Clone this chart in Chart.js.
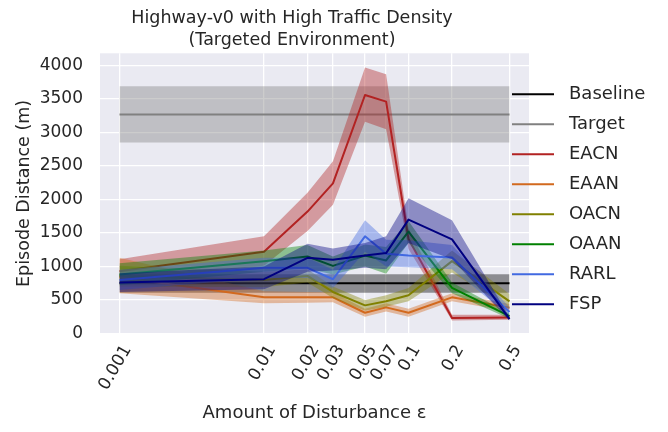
<!DOCTYPE html>
<html>
<head>
<meta charset="utf-8">
<script src="https://cdn.jsdelivr.net/npm/chart.js@4.4.1/dist/chart.umd.min.js"></script>
<style>
  html, body { margin: 0; padding: 0; background: #ffffff; }
  canvas { display: block; }
</style>
</head>
<body>
<canvas id="chart" width="668" height="432"></canvas>
<script>
// disturbance levels (log x axis) and tick labels
const xValues = [0.001, 0.01, 0.02, 0.03, 0.05, 0.07, 0.1, 0.2, 0.5];
const xTickLabels = ['0.001', '0.01', '0.02', '0.03', '0.05', '0.07', '0.1', '0.2', '0.5'];
const yTicks = [0, 500, 1000, 1500, 2000, 2500, 3000, 3500, 4000];

// mean episode distance and shaded band (low / high) per method
const baselineMean = [750, 750, 750, 750, 750, 750, 750, 750, 750];
const baselineLow  = [610, 610, 610, 610, 610, 610, 610, 610, 610];
const baselineHigh = [885, 885, 885, 885, 885, 885, 885, 885, 885];

const targetMean = [3270, 3270, 3270, 3270, 3270, 3270, 3270, 3270, 3270];
const targetLow  = [2850, 2850, 2850, 2850, 2850, 2850, 2850, 2850, 2850];
const targetHigh = [3690, 3690, 3690, 3690, 3690, 3690, 3690, 3690, 3690];

const eacnMean = [930, 1220, 1820, 2240, 3560, 3460, 1410, 230, 240];
const eacnLow  = [760, 1010, 1530, 1920, 3160, 3050, 1260, 195, 205];
const eacnHigh = [1110, 1450, 2100, 2570, 3970, 3870, 1570, 280, 280];

const eaanMean = [840, 540, 540, 540, 310, 390, 310, 540, 385];
const eaanLow  = [600, 450, 460, 465, 250, 330, 250, 480, 330];
const eaanHigh = [1130, 630, 620, 615, 370, 450, 370, 600, 440];

const oacnMean = [860, 800, 860, 620, 420, 480, 570, 1080, 480];
const oacnLow  = [700, 690, 760, 530, 340, 400, 480, 910, 370];
const oacnHigh = [1010, 920, 960, 700, 500, 570, 680, 1240, 590];

const oaanMean = [880, 1080, 1150, 1010, 1165, 1090, 1520, 680, 260];
const oaanLow  = [720, 920, 970, 880, 1000, 890, 1350, 600, 220];
const oaanHigh = [1050, 1240, 1320, 1150, 1330, 1290, 1680, 760, 300];

const rarlMean = [800, 980, 980, 810, 1450, 1190, 1165, 1135, 320];
const rarlLow  = [650, 830, 830, 680, 1220, 1000, 990, 960, 260];
const rarlHigh = [950, 1130, 1130, 950, 1690, 1400, 1390, 1320, 390];

const fspMean = [760, 810, 1130, 1100, 1165, 1200, 1700, 1405, 215];
const fspLow  = [620, 660, 920, 940, 980, 960, 1350, 1110, 190];
const fspHigh = [900, 1000, 1340, 1270, 1350, 1450, 2020, 1690, 250];

const seriesNames = ['Baseline', 'Target', 'EACN', 'EAAN', 'OACN', 'OAAN', 'RARL', 'FSP'];
const seriesColors = ['#000000', '#808080', '#b22222', '#d2691e', '#808000', '#008000', '#4169e1', '#000080'];
const seriesMeans = [baselineMean, targetMean, eacnMean, eaanMean, oacnMean, oaanMean, rarlMean, fspMean];
const seriesLows  = [baselineLow, targetLow, eacnLow, eaanLow, oacnLow, oaanLow, rarlLow, fspLow];
const seriesHighs = [baselineHigh, targetHigh, eacnHigh, eaanHigh, oacnHigh, oaanHigh, rarlHigh, fspHigh];

const textColor = '#262626';
const font = 'DejaVu Sans';

function rgba(hex, a) {
  const n = parseInt(hex.slice(1), 16);
  return `rgba(${(n >> 16) & 255},${(n >> 8) & 255},${n & 255},${a})`;
}

function points(ys) {
  return ys.map((y, i) => ({x: xValues[i], y: y}));
}

// short line swatch for the legend, left part of a wider box
function legendMark(color) {
  const c = document.createElement('canvas');
  c.width = 48;
  c.height = 6;
  const g = c.getContext('2d');
  g.strokeStyle = color;
  g.lineWidth = 2.2;
  g.beginPath();
  g.moveTo(0, 3);
  g.lineTo(42, 3);
  g.stroke();
  return c;
}

const datasets = [];
seriesNames.forEach((name, s) => {
  const color = seriesColors[s];
  const base = 100 - 10 * s;
  datasets.push({
    label: name,
    data: points(seriesMeans[s]),
    borderColor: color,
    backgroundColor: color,
    borderWidth: 2,
    borderJoinStyle: 'round',
    pointRadius: 0,
    fill: false,
    order: base
  });
  datasets.push({
    label: name + ' high',
    band: true,
    data: points(seriesHighs[s]),
    borderWidth: 0,
    borderColor: 'rgba(0,0,0,0)',
    backgroundColor: rgba(color, 0.4),
    pointRadius: 0,
    fill: '+1',
    order: base + 1
  });
  datasets.push({
    label: name + ' low',
    band: true,
    data: points(seriesLows[s]),
    borderWidth: 0,
    borderColor: 'rgba(0,0,0,0)',
    pointRadius: 0,
    fill: false,
    order: base + 2
  });
});

const plotBackground = {
  id: 'plotBackground',
  beforeDraw(chart) {
    const {ctx, chartArea: a} = chart;
    ctx.save();
    ctx.fillStyle = '#ffffff';
    ctx.fillRect(0, 0, chart.width, chart.height);
    ctx.fillStyle = '#eaeaf2';
    ctx.fillRect(a.left, a.top, a.right - a.left, a.bottom - a.top);
    ctx.restore();
  }
};

// put title and legend where the reference has them
const placeBoxes = {
  id: 'placeBoxes',
  afterLayout(chart) {
    const t = chart.titleBlock;
    t.left = 0; t.right = 584; t.top = 7.5; t.bottom = 53;
    const l = chart.legend;
    l.left = 500; l.right = 668; l.top = 73.2; l.bottom = 432;
  }
};

new Chart(document.getElementById('chart'), {
  type: 'line',
  data: {datasets: datasets},
  plugins: [plotBackground, placeBoxes],
  options: {
    responsive: false,
    animation: false,
    devicePixelRatio: 1,
    layout: {padding: {left: 0, right: 139, top: 0, bottom: 0}},
    plugins: {
      title: {
        display: true,
        text: ['Highway-v0 with High Traffic Density', '(Targeted Environment)'],
        color: textColor,
        font: {family: font, size: 17.5, weight: 'normal', lineHeight: 1.257},
        padding: {top: 0, bottom: 9.3}
      },
      legend: {
        display: true,
        position: 'chartArea',
        align: 'start',
        labels: {
          color: textColor,
          font: {family: font, size: 18},
          padding: 12,
          usePointStyle: true,
          pointStyleWidth: 48,
          generateLabels(chart) {
            const items = Chart.defaults.plugins.legend.labels.generateLabels(chart);
            return items
              .filter(it => !chart.data.datasets[it.datasetIndex].band)
              .sort((a, b) => a.datasetIndex - b.datasetIndex)
              .map(it => {
                it.pointStyle = legendMark(chart.data.datasets[it.datasetIndex].borderColor);
                return it;
              });
          }
        }
      },
      tooltip: {enabled: false}
    },
    scales: {
      x: {
        type: 'logarithmic',
        min: 0.000733,
        max: 0.682,
        afterBuildTicks(scale) {
          scale.ticks = xValues.map(v => ({value: v}));
        },
        afterFit(scale) { scale.height = 98.5; },
        grid: {color: '#ffffff', lineWidth: 1.3, drawTicks: false},
        border: {display: false},
        ticks: {
          autoSkip: false,
          minRotation: 60,
          maxRotation: 60,
          padding: 8,
          labelOffset: 8,
          color: textColor,
          font: {family: font, size: 17},
          callback: (value, index) => xTickLabels[index]
        },
        title: {
          display: true,
          text: 'Amount of Disturbance ε',
          color: textColor,
          font: {family: font, size: 18},
          padding: {top: 0, bottom: 8.2}
        }
      },
      y: {
        type: 'linear',
        min: 0,
        max: 4182,
        afterBuildTicks(scale) {
          scale.ticks = yTicks.map(v => ({value: v}));
        },
        afterFit(scale) { scale.width = 100; },
        grid: {color: '#ffffff', lineWidth: 1.3, drawTicks: false},
        border: {display: false},
        ticks: {
          padding: 17,
          color: textColor,
          font: {family: font, size: 17},
          callback: (value) => String(value)
        },
        title: {
          display: true,
          text: 'Episode Distance (m)',
          color: textColor,
          font: {family: font, size: 17.5},
          padding: {top: 13.5, bottom: 0}
        }
      }
    }
  }
});
</script>
</body>
</html>
